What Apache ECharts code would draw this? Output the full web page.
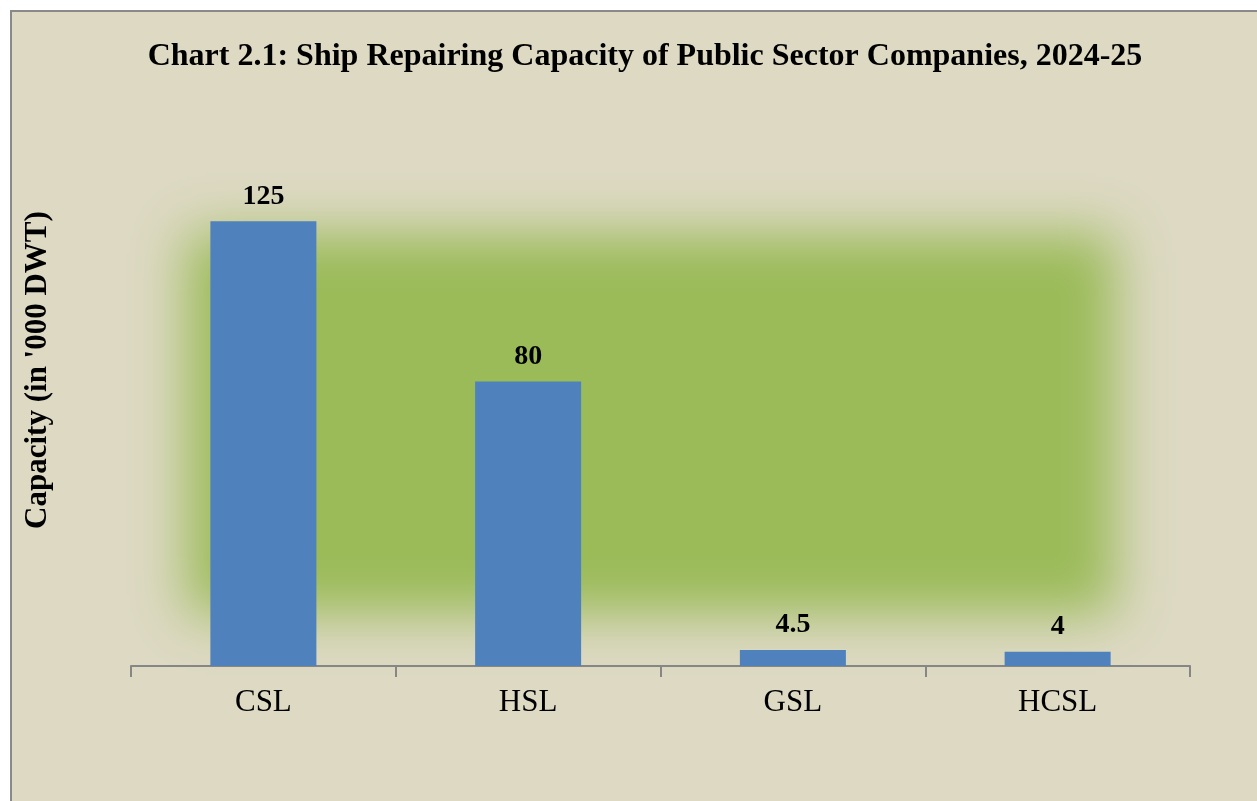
<!DOCTYPE html>
<html>
<head>
<meta charset="utf-8">
<script src="https://cdn.jsdelivr.net/npm/echarts@6/dist/echarts.min.js"></script>
<style>
  html, body { margin: 0; padding: 0; background: #ffffff; }
  #chart { width: 1257px; height: 801px; }
</style>
</head>
<body>
<div id="chart"></div>
<script>
  const categories = ['CSL', 'HSL', 'GSL', 'HCSL'];
  const capacity = [125, 80, 4.5, 4];

  const serif = '"Liberation Serif", "Times New Roman", serif';
  const chart = echarts.init(document.getElementById('chart'));

  chart.setOption({
    animation: false,
    backgroundColor: '#ffffff',
    graphic: [
      {
        type: 'rect',
        z: -20,
        shape: { x: 11, y: 11, width: 1400, height: 1000 },
        style: { fill: '#ddd9c3', stroke: '#898989', lineWidth: 2 }
      },
      {
        // soft-edged green plot area: only the blurred shadow is visible
        type: 'rect',
        z: -10,
        shape: { x: 187 - 4000, y: 234, width: 928, height: 380 },
        style: {
          fill: '#9bbb59',
          shadowColor: '#9bbb59',
          shadowBlur: 50,
          shadowOffsetX: 4000
        }
      },
      {
        type: 'text',
        z: 10,
        x: 38,
        y: 370,
        rotation: Math.PI / 2,
        style: {
          text: "Capacity (in '000 DWT)",
          font: 'bold 31px ' + serif,
          fill: '#000',
          align: 'center',
          verticalAlign: 'middle'
        }
      }
    ],
    title: {
      text: 'Chart 2.1: Ship Repairing Capacity of Public Sector Companies, 2024-25',
      left: 640,
      textAlign: 'center',
      top: 36,
      textStyle: { fontFamily: serif, fontWeight: 'bold', fontSize: 32, color: '#000' }
    },
    grid: { left: 131, right: 67, top: 168, bottom: 135 },
    xAxis: {
      type: 'category',
      data: categories,
      axisLine: { lineStyle: { color: '#868686', width: 2 } },
      axisTick: { show: true, length: 11, lineStyle: { color: '#868686', width: 2 } },
      axisLabel: { fontFamily: serif, fontSize: 31, color: '#000', margin: 21 }
    },
    yAxis: {
      type: 'value',
      min: 0,
      max: 140,
      interval: 20,
      axisLine: { show: false },
      axisTick: { show: false },
      axisLabel: { show: false },
      splitLine: { show: false }
    },
    series: [{
      type: 'bar',
      data: capacity,
      barWidth: 106,
      itemStyle: { color: '#4f81bd' },
      label: {
        show: true,
        position: 'top',
        distance: 11,
        fontFamily: serif,
        fontWeight: 'bold',
        fontSize: 28,
        color: '#000'
      }
    }]
  });
</script>
</body>
</html>
